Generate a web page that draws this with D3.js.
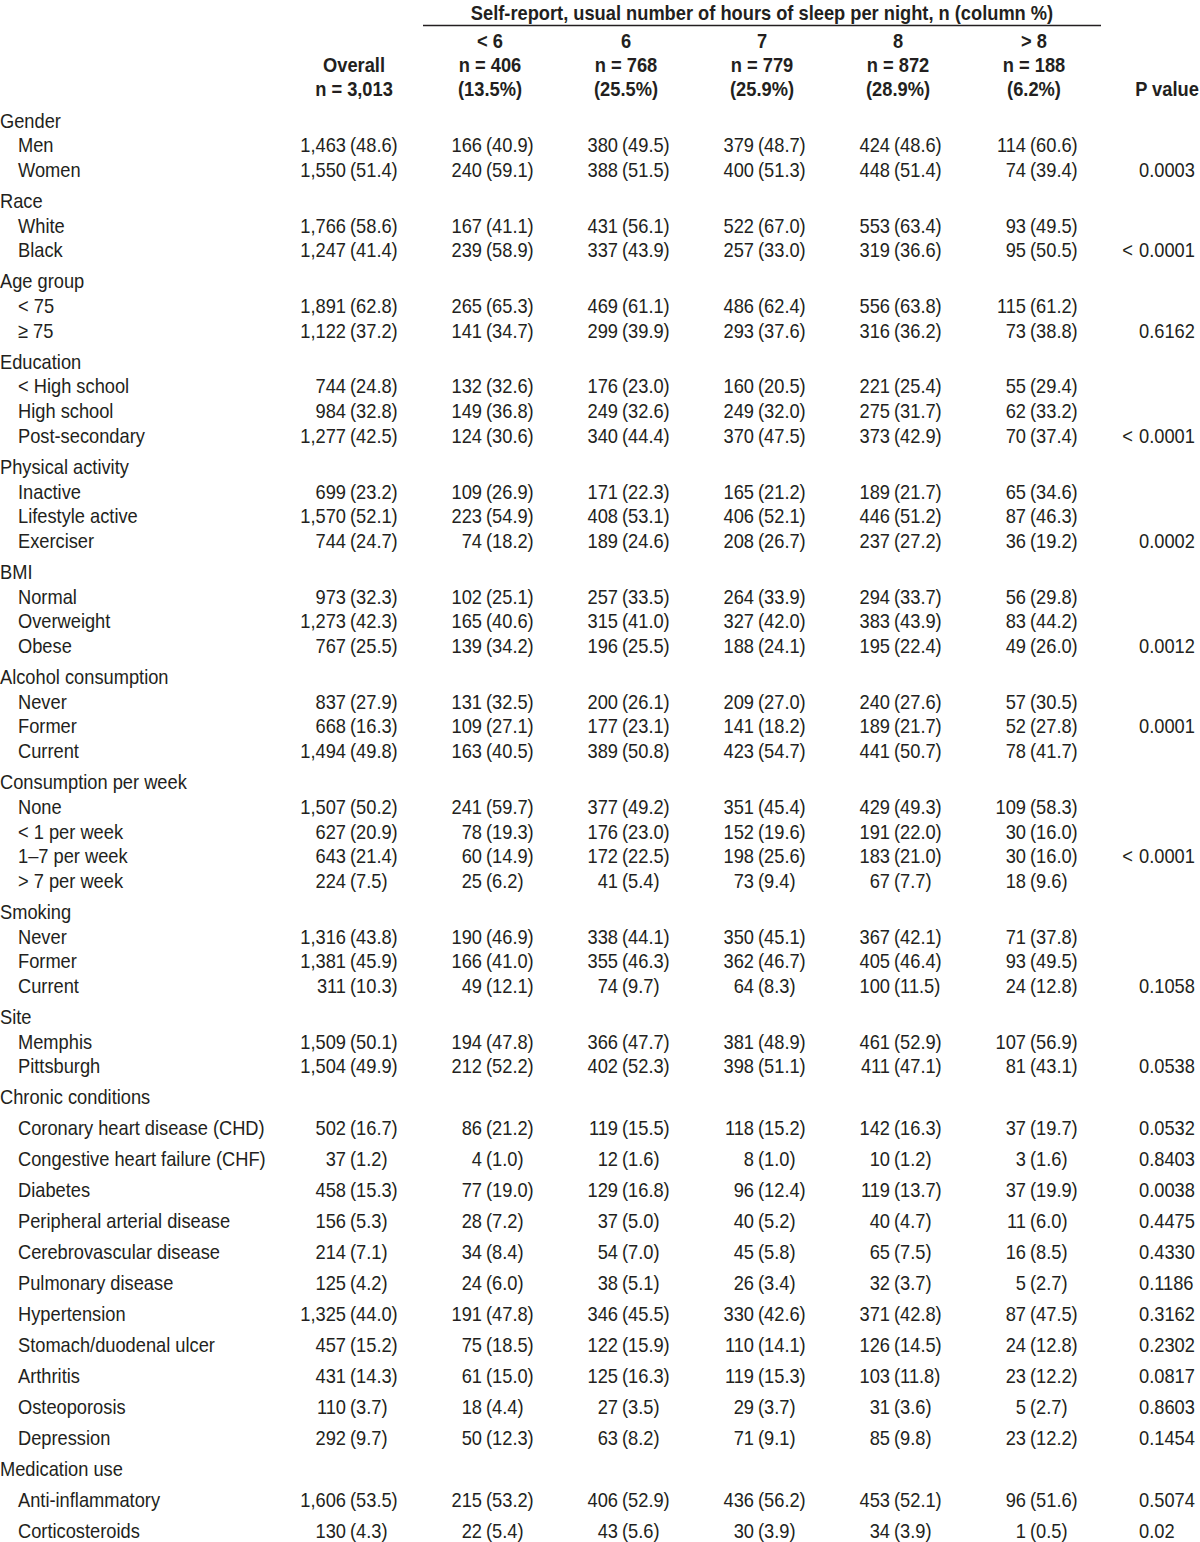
<!DOCTYPE html>
<html>
<head>
<meta charset="utf-8">
<script src="https://cdn.jsdelivr.net/npm/d3@7"></script>
<style>
  body { margin: 0; background: #fff; }
  svg text { font-family: "Liberation Sans Narrow", "Arial Narrow", "Liberation Sans", Arial, sans-serif; fill: #231f20; }
</style>
</head>
<body>
<svg width="1200" height="1542"></svg>
<script>
// table content
var title = "Self-report, usual number of hours of sleep per night, n (column %)"
var colKeys = ["overall", "lt6", "h6", "h7", "h8", "gt8"]
var colHead1 = ["", "< 6", "6", "7", "8", "> 8"]
var colHead2 = ["Overall", "n = 406", "n = 768", "n = 779", "n = 872", "n = 188"]
var colHead3 = ["n = 3,013", "(13.5%)", "(25.5%)", "(25.9%)", "(28.9%)", "(6.2%)"]

var groupNames = ["Gender", "Race", "Age group", "Education", "Physical activity", "BMI",
  "Alcohol consumption", "Consumption per week", "Smoking", "Site", "Chronic conditions", "Medication use"]
var groupSizes = [2, 2, 2, 3, 3, 3, 3, 4, 3, 2, 11, 2]

var itemLabels = ["Men", "Women", "White", "Black", "< 75", "\u2265 75",
  "< High school", "High school", "Post-secondary",
  "Inactive", "Lifestyle active", "Exerciser",
  "Normal", "Overweight", "Obese",
  "Never", "Former", "Current",
  "None", "< 1 per week", "1\u20137 per week", "> 7 per week",
  "Never", "Former", "Current",
  "Memphis", "Pittsburgh",
  "Coronary heart disease (CHD)", "Congestive heart failure (CHF)", "Diabetes", "Peripheral arterial disease",
  "Cerebrovascular disease", "Pulmonary disease", "Hypertension", "Stomach/duodenal ulcer", "Arthritis",
  "Osteoporosis", "Depression",
  "Anti-inflammatory", "Corticosteroids"]

// [n, column %]
var colOverall = [[1463, 48.6], [1550, 51.4], [1766, 58.6], [1247, 41.4], [1891, 62.8], [1122, 37.2],
  [744, 24.8], [984, 32.8], [1277, 42.5], [699, 23.2], [1570, 52.1], [744, 24.7],
  [973, 32.3], [1273, 42.3], [767, 25.5], [837, 27.9], [668, 16.3], [1494, 49.8],
  [1507, 50.2], [627, 20.9], [643, 21.4], [224, 7.5], [1316, 43.8], [1381, 45.9], [311, 10.3],
  [1509, 50.1], [1504, 49.9],
  [502, 16.7], [37, 1.2], [458, 15.3], [156, 5.3], [214, 7.1], [125, 4.2], [1325, 44.0], [457, 15.2],
  [431, 14.3], [110, 3.7], [292, 9.7], [1606, 53.5], [130, 4.3]]
var colLt6 = [[166, 40.9], [240, 59.1], [167, 41.1], [239, 58.9], [265, 65.3], [141, 34.7],
  [132, 32.6], [149, 36.8], [124, 30.6], [109, 26.9], [223, 54.9], [74, 18.2],
  [102, 25.1], [165, 40.6], [139, 34.2], [131, 32.5], [109, 27.1], [163, 40.5],
  [241, 59.7], [78, 19.3], [60, 14.9], [25, 6.2], [190, 46.9], [166, 41.0], [49, 12.1],
  [194, 47.8], [212, 52.2],
  [86, 21.2], [4, 1.0], [77, 19.0], [28, 7.2], [34, 8.4], [24, 6.0], [191, 47.8], [75, 18.5],
  [61, 15.0], [18, 4.4], [50, 12.3], [215, 53.2], [22, 5.4]]
var col6 = [[380, 49.5], [388, 51.5], [431, 56.1], [337, 43.9], [469, 61.1], [299, 39.9],
  [176, 23.0], [249, 32.6], [340, 44.4], [171, 22.3], [408, 53.1], [189, 24.6],
  [257, 33.5], [315, 41.0], [196, 25.5], [200, 26.1], [177, 23.1], [389, 50.8],
  [377, 49.2], [176, 23.0], [172, 22.5], [41, 5.4], [338, 44.1], [355, 46.3], [74, 9.7],
  [366, 47.7], [402, 52.3],
  [119, 15.5], [12, 1.6], [129, 16.8], [37, 5.0], [54, 7.0], [38, 5.1], [346, 45.5], [122, 15.9],
  [125, 16.3], [27, 3.5], [63, 8.2], [406, 52.9], [43, 5.6]]
var col7 = [[379, 48.7], [400, 51.3], [522, 67.0], [257, 33.0], [486, 62.4], [293, 37.6],
  [160, 20.5], [249, 32.0], [370, 47.5], [165, 21.2], [406, 52.1], [208, 26.7],
  [264, 33.9], [327, 42.0], [188, 24.1], [209, 27.0], [141, 18.2], [423, 54.7],
  [351, 45.4], [152, 19.6], [198, 25.6], [73, 9.4], [350, 45.1], [362, 46.7], [64, 8.3],
  [381, 48.9], [398, 51.1],
  [118, 15.2], [8, 1.0], [96, 12.4], [40, 5.2], [45, 5.8], [26, 3.4], [330, 42.6], [110, 14.1],
  [119, 15.3], [29, 3.7], [71, 9.1], [436, 56.2], [30, 3.9]]
var col8 = [[424, 48.6], [448, 51.4], [553, 63.4], [319, 36.6], [556, 63.8], [316, 36.2],
  [221, 25.4], [275, 31.7], [373, 42.9], [189, 21.7], [446, 51.2], [237, 27.2],
  [294, 33.7], [383, 43.9], [195, 22.4], [240, 27.6], [189, 21.7], [441, 50.7],
  [429, 49.3], [191, 22.0], [183, 21.0], [67, 7.7], [367, 42.1], [405, 46.4], [100, 11.5],
  [461, 52.9], [411, 47.1],
  [142, 16.3], [10, 1.2], [119, 13.7], [40, 4.7], [65, 7.5], [32, 3.7], [371, 42.8], [126, 14.5],
  [103, 11.8], [31, 3.6], [85, 9.8], [453, 52.1], [34, 3.9]]
var colGt8 = [[114, 60.6], [74, 39.4], [93, 49.5], [95, 50.5], [115, 61.2], [73, 38.8],
  [55, 29.4], [62, 33.2], [70, 37.4], [65, 34.6], [87, 46.3], [36, 19.2],
  [56, 29.8], [83, 44.2], [49, 26.0], [57, 30.5], [52, 27.8], [78, 41.7],
  [109, 58.3], [30, 16.0], [30, 16.0], [18, 9.6], [71, 37.8], [93, 49.5], [24, 12.8],
  [107, 56.9], [81, 43.1],
  [37, 19.7], [3, 1.6], [37, 19.9], [11, 6.0], [16, 8.5], [5, 2.7], [87, 47.5], [24, 12.8],
  [23, 12.2], [5, 2.7], [23, 12.2], [96, 51.6], [1, 0.5]]
var pValues = ["", "0.0003", "", "< 0.0001", "", "0.6162",
  "", "", "< 0.0001", "", "", "0.0002", "", "", "0.0012",
  "", "0.0001", "", "", "", "< 0.0001", "", "", "", "0.1058", "", "0.0538",
  "0.0532", "0.8403", "0.0038", "0.4475", "0.4330", "0.1186", "0.3162", "0.2302", "0.0817",
  "0.8603", "0.1454", "0.5074", "0.02"]

var columns = [colOverall, colLt6, col6, col7, col8, colGt8]

var svg = d3.select("svg")
var fontSize = 21
var narrow = 0.87   // no narrow face installed, so squeeze the regular one
var x = d3.scalePoint().domain(colKeys).range([354, 1034])
var pX = 1139      // left edge of the p value digits
var pHeadX = 1167
var fmtN = d3.format(",")

// vertical layout: compact groups use 24.7px rows, the last two groups 31px
var rows = []
var yPos = 120, k = 0
groupNames.forEach(function(g, gi) {
  var step = gi >= 10 ? 31 : 24.7
  rows.push({ type: "group", label: g, y: yPos })
  for (var j = 0; j < groupSizes[gi]; j++) {
    yPos += step
    rows.push({ type: "item", label: itemLabels[k], idx: k, y: yPos })
    k++
  }
  yPos += 31
})

function txt(sel, s, xx, yy, anchor, bold) {
  return sel.append("text")
    .attr("x", 0).attr("y", 0)
    .attr("transform", "translate(" + xx + "," + (yy + 7.5) + ") scale(" + narrow + ",1)")
    .attr("text-anchor", anchor || "start")
    .attr("font-size", fontSize + "px")
    .attr("font-weight", bold ? "bold" : "normal")
    .text(s)
}

// header
var head = svg.append("g")
txt(head, title, 762, 12, "middle", true)
head.append("line")
  .attr("x1", 423).attr("x2", 1101).attr("y1", 25.5).attr("y2", 25.5)
  .attr("stroke", "#231f20").attr("stroke-width", 1.5)
colKeys.forEach(function(c, i) {
  if (colHead1[i]) txt(head, colHead1[i], x(c), 40, "middle", true)
  txt(head, colHead2[i], x(c), 64, "middle", true)
  txt(head, colHead3[i], x(c), 88, "middle", true)
})
txt(head, "P value", pHeadX, 88, "middle", true)

// body
var body = svg.append("g")
var rowG = body.selectAll("g.row").data(rows).enter().append("g").attr("class", "row")

rowG.each(function(r) {
  var g = d3.select(this)
  if (r.type == "group") {
    txt(g, r.label, 0, r.y)
    return
  }
  txt(g, r.label, 18, r.y)
  columns.forEach(function(col, ci) {
    var cell = col[r.idx]
    var anchor = x(colKeys[ci]) - 4   // position of the "("
    txt(g, fmtN(cell[0]), anchor - 4, r.y, "end")
    txt(g, "(" + cell[1].toFixed(1) + ")", anchor, r.y, "start")
  })
  var p = pValues[r.idx]
  if (p) {
    if (p.indexOf("<") == 0) {
      txt(g, "<", pX - 6, r.y, "end")
      txt(g, p.slice(2), pX, r.y, "start")
    } else {
      txt(g, p, pX, r.y, "start")
    }
  }
})
</script>
</body>
</html>
